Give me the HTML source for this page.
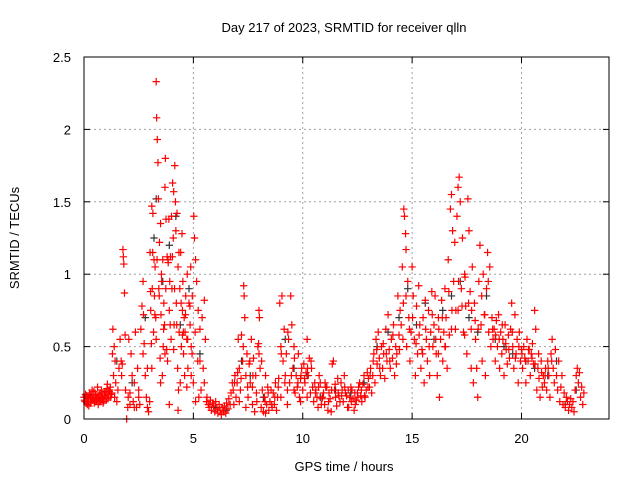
<!DOCTYPE html>
<html><head><meta charset="utf-8"><style>
html,body{margin:0;padding:0;background:#fff}
svg{display:block;font-family:"Liberation Sans",sans-serif}
</style></head><body>
<svg id="chart" width="640" height="480" xmlns="http://www.w3.org/2000/svg">
<rect width="640" height="480" fill="#fff"/>
<text x="344" y="32" font-size="13" text-anchor="middle" fill="#000">Day 217 of 2023, SRMTID for receiver qlln</text>
<text x="344" y="471" font-size="13" text-anchor="middle" fill="#000">GPS time / hours</text>
<text transform="translate(19,238) rotate(-90)" font-size="13" text-anchor="middle" fill="#000">SRMTID / TECUs</text>
<g id="grid"></g>
<g id="ticks"></g>
<g id="black"></g>
<g id="red"></g>
<rect x="84" y="57" width="525" height="362" fill="none" stroke="#000" stroke-width="1"/>
</svg>
<script>
const xTicks = [0,5,10,15,20];
const yTicks = [0,0.5,1,1.5,2,2.5];
const yTickLabels = ["0","0.5","1","1.5","2","2.5"];
const redSegments = [
 {t:[0.0,0.05,0.1,0.15,0.2,0.25,0.3,0.35,0.4,0.45,0.5,0.55,0.6,0.65,0.7,0.75,0.8,0.85,0.9,0.95,1.0,1.05,1.1,1.15,1.2,1.25],
  v:[.15,.12,.16,.10,.14,.18,.11,.15,.13,.19,.12,.16,.14,.10,.17,.13,.20,.15,.12,.18,.16,.21,.14,.19,.22,.17]},
 {t:[0.02,0.07,0.12,0.17,0.22,0.27,0.32,0.37,0.42,0.47,0.52,0.57,0.62,0.67,0.72,0.77,0.82,0.87,0.92,0.97,1.02,1.07,1.12,1.17,1.22,1.27],
  v:[.13,.17,.11,.15,.09,.16,.12,.20,.14,.11,.17,.13,.22,.15,.12,.18,.14,.11,.16,.19,.13,.24,.17,.20,.15,.18]},
 {t:[1.3,1.32,1.35,1.38,1.4,1.42,1.45,1.5,1.55,1.6,1.65,1.7,1.72,1.75,1.78,1.8,1.82,1.85,1.88,1.9,1.95,2.0],
  v:[.45,.62,.30,.50,.15,.40,.25,.12,.20,.35,.55,.40,.30,.38,1.17,1.12,1.07,.87,.58,.20,.00,.08]},
 {t:[2.02,2.05,2.1,2.15,2.2,2.25,2.3,2.35,2.4,2.45,2.5,2.55,2.6,2.65,2.7,2.72,2.75,2.8,2.85,2.9,2.95,3.0,2.1,2.3,2.5,2.7,2.9],
  v:[.15,.55,.10,.45,.30,.12,.25,.60,.08,.35,.20,.10,.62,.78,.95,.72,.52,.30,.15,.08,.05,.12,.18,.08,.15,.45,.35]},
 {t:[3.02,3.05,3.08,3.1,3.12,3.15,3.18,3.2,3.22,3.25,3.28,3.3,3.32,3.35,3.38,3.4,3.42,3.45,3.48,3.5,3.52,3.55,3.58,3.6,3.62,3.65,3.68,3.7,3.72,3.75,3.78,3.8,3.82,3.85,3.88,3.9,3.92,3.95,3.98,4.0],
  v:[1.15,.75,.52,1.47,.90,1.42,.60,1.10,.85,1.05,.70,2.33,2.08,1.93,1.77,1.52,.90,1.22,.42,1.35,.72,.95,.30,1.10,.50,.80,.65,1.60,1.80,1.38,.48,1.12,.40,1.08,1.38,.75,.95,1.12,.55,1.40]},
 {t:[4.02,4.05,4.08,4.1,4.12,4.15,4.18,4.2,4.22,4.25,4.28,4.3,4.32,4.35,4.38,4.4,4.42,4.45,4.48,4.5,4.52,4.55,4.58,4.6,3.1,3.3,3.5,3.7,3.9,4.1,4.3,4.5],
  v:[.90,1.63,1.25,1.57,.65,1.75,1.50,1.30,.80,1.42,.35,1.05,.20,.60,.90,.25,1.15,.50,1.28,.75,.95,.45,.70,.30,.35,.55,.25,.45,.10,.48,.06,.58]},
 {t:[3.04,3.14,3.24,3.34,3.44,3.54,3.64,3.74,3.84,3.94,4.04,4.14,4.24,4.34,4.44,4.54,4.64,4.74,4.84,4.94],
  v:[.88,1.15,.72,1.10,.85,1.00,.62,.90,1.10,.65,1.12,.90,.65,1.15,.80,.60,.72,.55,.78,.45]},
 {t:[4.62,4.65,4.7,4.72,4.75,4.8,4.85,4.88,4.9,4.95,5.0,5.02,5.05,5.08,5.1,5.15,5.2,5.22,5.25,5.3,5.35,5.4,5.45,5.5,5.55,5.6,4.7,4.9,5.1,5.3,5.5],
  v:[.60,.85,.55,1.00,.35,.80,.65,1.05,.30,.85,.25,1.40,1.25,.60,1.10,.95,.40,.75,.15,.62,.20,.70,.35,.82,.55,.12,.22,.50,.12,.40,.25]},
 {t:[5.62,5.68,5.72,5.78,5.82,5.88,5.92,5.98,6.02,6.08,6.12,6.18,6.22,6.28,6.32,6.38,6.42,6.48,6.52,6.58,6.62,6.68,6.72,6.78],
  v:[.15,.10,.08,.13,.06,.11,.09,.05,.12,.07,.04,.10,.06,.03,.08,.05,.09,.04,.11,.07,.14,.10,.18,.25]},
 {t:[6.82,6.85,6.9,6.95,7.0,7.05,7.1,7.15,7.2,7.25,7.3,7.32,7.35,7.4,7.45,7.5,7.55,7.6,7.65,7.7,7.75,7.8,7.85,7.9,7.95,8.0,8.02,8.05,8.1,8.15,8.2,8.25,8.3,8.35,8.4,8.45,7.1,7.4,7.7,8.0,8.3],
  v:[.20,.10,.30,.15,.25,.55,.35,.20,.58,.40,.92,.85,.70,.30,.45,.15,.38,.25,.55,.10,.42,.05,.30,.12,.50,.75,.70,.35,.08,.20,.05,.15,.30,.10,.22,.06,.12,.08,.22,.45,.04]},
 {t:[6.88,7.02,7.18,7.28,7.48,7.58,7.72,7.88,7.98,8.12,8.28,8.42,8.58,8.72,8.88,9.02,9.18,9.32,9.48,9.62,9.78,9.92,10.08,10.22,10.38],
  v:[.25,.32,.28,.50,.22,.40,.30,.18,.52,.40,.12,.18,.10,.15,.22,.45,.25,.60,.30,.42,.25,.30,.28,.35,.40]},
 {t:[8.5,8.55,8.6,8.65,8.7,8.75,8.8,8.85,8.9,8.95,9.0,9.05,9.1,9.15,9.2,9.25,9.3,9.35,9.4,9.45,9.5,9.55,9.6,9.65,9.7,9.75,9.8,9.85,9.9,9.95,10.0,10.05,10.1,10.15,10.2,10.25,10.3,10.35,10.4,10.45,9.0,9.3,9.6,9.9,10.2],
  v:[.12,.20,.08,.18,.10,.25,.06,.15,.28,.80,.50,.85,.40,.62,.30,.45,.20,.55,.25,.85,.65,.35,.50,.18,.30,.22,.45,.15,.28,.35,.20,.38,.25,.32,.55,.30,.42,.18,.35,.22,.15,.10,.20,.12,.15]},
 {t:[10.5,10.6,10.7,10.8,10.9,11.0,11.1,11.2,11.3,11.4,11.5,11.6,11.7,11.8,11.9,12.0,12.1,12.2,12.3,12.4,12.5,12.6,12.7,12.8,12.9,13.0],
  v:[.12,.20,.08,.25,.15,.10,.22,.18,.05,.40,.15,.28,.12,.20,.30,.16,.08,.22,.14,.10,.18,.25,.12,.30,.20,.28]},
 {t:[10.55,10.65,10.75,10.85,10.95,11.05,11.15,11.25,11.35,11.45,11.55,11.65,11.75,11.85,11.95,12.05,12.15,12.25,12.35,12.45,12.55,12.65,12.75,12.85,12.95],
  v:[.25,.15,.30,.10,.18,.22,.06,.14,.38,.20,.09,.16,.25,.12,.18,.08,.15,.20,.06,.13,.22,.16,.24,.15,.32]},
 {t:[10.58,10.72,10.88,11.02,11.18,11.32,11.48,11.62,11.78,11.92,12.08,12.22,12.38,12.52,12.68,12.82,12.98],
  v:[.18,.22,.14,.25,.12,.20,.24,.18,.16,.22,.20,.12,.18,.15,.20,.16,.22]},
 {t:[13.05,13.1,13.15,13.2,13.25,13.3,13.35,13.4,13.45,13.5,13.55,13.6,13.65,13.7,13.75,13.8,13.85,13.9,13.95,14.0,14.05,14.1,14.15,14.2,14.25,14.3,14.35,14.4,14.45],
  v:[.22,.35,.18,.30,.45,.25,.55,.38,.60,.42,.30,.50,.35,.45,.28,.62,.40,.72,.48,.35,.55,.42,.65,.30,.50,.45,.85,.58,.75]},
 {t:[13.08,13.22,13.38,13.52,13.68,13.82,13.98,14.12,14.28,14.42,14.58,14.72,14.88,15.02,15.18,15.32,15.48,15.62,15.78,15.92],
  v:[.30,.40,.48,.35,.52,.45,.40,.58,.38,.48,.55,.85,.62,.70,.52,.58,.45,.62,.50,.72]},
 {t:[14.5,14.55,14.6,14.62,14.65,14.7,14.72,14.75,14.8,14.85,14.9,14.95,15.0,15.05,15.1,15.15,15.2,15.25,15.3,15.35,15.4,15.45,15.5,15.55,15.6,15.65,15.7,15.75,15.8,15.85,15.9,15.95],
  v:[.65,1.05,.80,1.45,1.40,1.28,1.17,.50,.95,.70,.40,.60,1.05,.85,.55,.30,.78,.45,.92,.65,.35,.48,.70,.25,.82,.55,.40,.75,.30,.60,.88,.50]},
 {t:[16.0,16.05,16.1,16.15,16.2,16.25,16.3,16.35,16.4,16.45,16.5,16.55,16.6,16.65,16.7,16.75,16.8,16.85,16.9,16.95,17.0,17.05,17.1,17.15,17.2,17.25,17.3,17.35,17.4,17.45,17.5,17.55,17.6,17.65,17.7,17.75,16.2,16.5,16.8,17.1,17.4,17.7],
  v:[.65,.85,.45,.30,.70,.15,.55,.82,.40,.60,.90,.70,.35,1.10,.58,1.45,1.55,1.30,.95,1.22,.75,1.40,1.60,1.67,1.50,.90,1.25,.60,1.00,.78,.45,1.52,1.30,.88,.62,1.05,.45,.50,.62,.75,.58,.35]},
 {t:[16.08,16.22,16.38,16.52,16.68,16.82,16.98,17.12,17.28,17.42,17.58,17.72,17.88,18.02,18.18,18.32,18.48],
  v:[.55,.62,.70,.50,.88,.75,.62,.95,.78,.98,.80,.75,.68,.62,.85,.72,.95]},
 {t:[17.8,17.85,17.9,17.95,18.0,18.05,18.1,18.15,18.2,18.25,18.3,18.35,18.4,18.45,18.5,18.55,18.6],
  v:[.25,.80,.55,.35,.15,.95,1.20,.65,.40,1.00,.72,.30,.90,1.15,.60,1.05,.50]},
 {t:[18.65,18.7,18.75,18.8,18.85,18.9,18.95,19.0,19.05,19.1,19.15,19.2,19.25,19.3,19.35,19.4,19.45,19.5,19.55,19.6,19.65,19.7,19.75,19.8,19.85,19.9,19.95,20.0],
  v:[.70,.55,.62,.40,.68,.50,.72,.35,.60,.45,.55,.30,.65,.48,.38,.58,.42,.62,.80,.50,.35,.72,.45,.55,.25,.60,.40,.48]},
 {t:[18.68,18.82,18.98,19.12,19.28,19.42,19.58,19.72,19.88,20.02,20.18,20.32,20.48,20.62,20.78,20.92,21.08,21.22,21.38],
  v:[.62,.58,.55,.65,.52,.48,.60,.42,.50,.45,.40,.48,.42,.38,.45,.32,.30,.35,.40]},
 {t:[20.05,20.1,20.15,20.2,20.25,20.3,20.35,20.4,20.45,20.5,20.55,20.6,20.65,20.7,20.75,20.8,20.85,20.9,20.95,21.0],
  v:[.35,.50,.42,.25,.55,.40,.48,.30,.45,.52,.38,.75,.62,.20,.35,.28,.15,.40,.22,.30]},
 {t:[21.05,21.1,21.15,21.2,21.25,21.3,21.35,21.4,21.45,21.5,21.55,21.6,21.65,21.7,21.75,21.8,21.85,21.9,21.95,22.0,22.05,22.1,22.15,22.2,22.25,22.3,22.35,22.4,22.45,22.5,22.55,22.6,22.65,22.7,22.75,22.8,22.85],
  v:[.25,.35,.20,.40,.30,.15,.45,.55,.35,.25,.48,.30,.20,.40,.12,.22,.30,.10,.18,.08,.15,.12,.06,.10,.14,.08,.12,.05,.20,.30,.35,.25,.32,.15,.22,.10,.18]}
];
const blackTimes = [0.3,0.8,1.5,2.2,2.8,3.2,3.3,3.6,3.9,4.2,4.4,4.8,5.3,6.0,6.5,7.2,7.6,8.2,9.2,9.6,10.2,10.8,11.5,12.2,12.8,13.4,13.9,14.4,14.8,15.2,15.6,16.0,16.4,16.8,17.2,17.6,18.0,18.4,18.8,19.2,19.6,20.2,20.6,21.2,21.6,22.0,22.5];
const blackValues = [.15,.18,.40,.25,.70,1.25,1.52,.95,1.20,1.40,.65,.90,.45,.08,.06,.40,.30,.15,.55,.35,.30,.15,.20,.18,.25,.50,.60,.70,.90,.65,.80,.55,.75,.85,.95,.70,.60,.85,.55,.50,.45,.40,.35,.30,.40,.10,.20];

const NS = "http://www.w3.org/2000/svg";
const X0 = 84, X1 = 609, Y0 = 419, Y1 = 57, XMAX = 24, YMAX = 2.5;
function xScale(h){ return X0 + h/XMAX*(X1-X0); }
function yScale(v){ return Y0 - v/YMAX*(Y0-Y1); }
function mk(tag, attrs, parent){ const e=document.createElementNS(NS,tag); for(const k in attrs) e.setAttribute(k,attrs[k]); parent.appendChild(e); return e; }

const grid=document.getElementById('grid'), ticks=document.getElementById('ticks');
xTicks.forEach(t=>{
  const x=xScale(t);
  if(t>0){
    const g=mk('line',{x1:x,x2:x,y1:Y1,y2:Y0,stroke:'#a0a0a0','stroke-dasharray':'2,3'},grid);
    
    
  }
  const a=mk('line',{x1:x,x2:x,y1:Y0,y2:Y0-6,stroke:'#000'},ticks);
  
  
  const b=mk('line',{x1:x,x2:x,y1:Y1,y2:Y1+6,stroke:'#000'},ticks);
  
  
  const l=mk('text',{x:x,y:Y0+24,'font-size':'13','text-anchor':'middle',fill:'#000'},ticks);
  l.textContent=String(t);
  
  
});
yTicks.forEach((v,i)=>{
  const y=yScale(v);
  if(v>0 && v<YMAX){
    const g=mk('line',{x1:X0,x2:X1,y1:y,y2:y,stroke:'#a0a0a0','stroke-dasharray':'2,3'},grid);
    
    
  }
  const a=mk('line',{x1:X0,x2:X0+6,y1:y,y2:y,stroke:'#000'},ticks);
  
  
  const b=mk('line',{x1:X1,x2:X1-6,y1:y,y2:y,stroke:'#000'},ticks);
  
  
  const l=mk('text',{x:X0-13,y:y+5,'font-size':'13','text-anchor':'end',fill:'#000'},ticks);
  l.textContent=yTickLabels[i];
  
  
});
function plus(parent,h,v,color){
  const x=xScale(h), y=yScale(v);
  const p=mk('path',{d:`M${x-3.7},${y}H${x+3.7}M${x},${y-3.7}V${y+3.7}`,stroke:color,'stroke-width':'1.2',fill:'none'},parent);
  
  
}
const blackG=document.getElementById('black');
for(let i=0;i<Math.min(blackTimes.length,blackValues.length);i++) plus(blackG,blackTimes[i],blackValues[i],'#333');
const redG=document.getElementById('red');
redSegments.forEach(s=>{ for(let i=0;i<Math.min(s.t.length,s.v.length);i++) plus(redG,s.t[i],s.v[i],'#ff0000'); });
</script>
</body></html>
